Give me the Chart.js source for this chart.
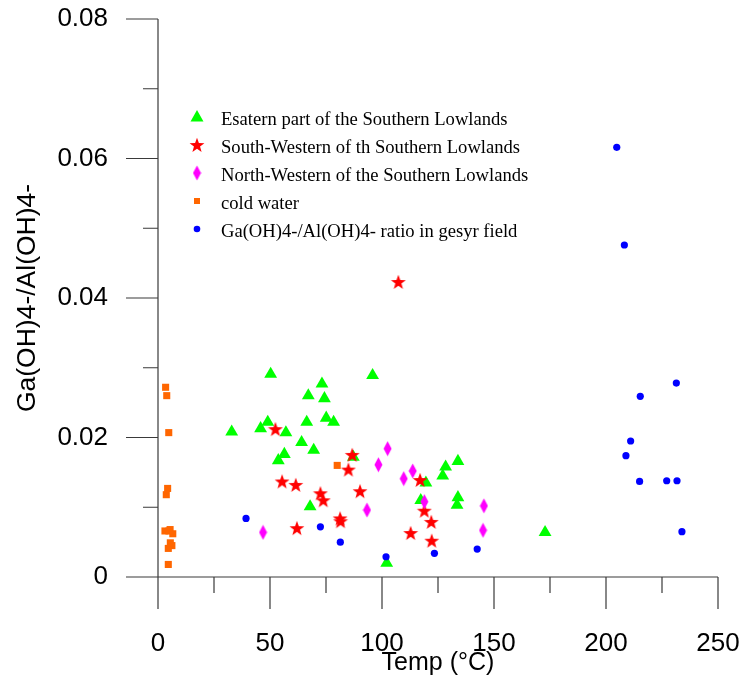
<!DOCTYPE html>
<html><head><meta charset="utf-8">
<script src="https://cdn.jsdelivr.net/npm/chart.js@4"></script>
<style>html,body{margin:0;padding:0;background:#fff}#wrap{width:744px;height:678px;position:relative}</style>
</head><body><div id="wrap"><canvas id="c" width="744" height="678"></canvas></div>
<script>
// ---- data ----
const seriesNames = [
  'Esatern part of the Southern Lowlands',
  'South-Western of th Southern Lowlands',
  'North-Western of the Southern Lowlands',
  'cold water',
  'Ga(OH)4-/Al(OH)4- ratio in gesyr field'
];
const eastTemp = [50.3,73.2,67.1,74.3,66.4,75.1,78.4,32.9,49.0,45.8,57.1,64.1,69.5,56.4,53.7,67.9,95.8,87.2,133.9,128.4,127.1,119.6,117.3,133.9,133.5,172.8,102.1];
const eastRatio = [0.0291,0.0277,0.0260,0.0256,0.0222,0.0228,0.0222,0.0208,0.0222,0.0213,0.0207,0.0193,0.0182,0.0176,0.0167,0.0101,0.0289,0.0172,0.0166,0.0158,0.0145,0.0135,0.0110,0.0114,0.0103,0.0064,0.0020];
const swTemp = [52.4,55.4,61.5,62.0,72.5,73.8,81.3,81.5,85.0,86.7,90.2,107.3,112.8,117.0,118.9,122.0,122.2];
const swRatio = [0.0212,0.0137,0.0132,0.0070,0.0120,0.0110,0.0084,0.0080,0.0154,0.0175,0.0123,0.0423,0.0063,0.0139,0.0095,0.0079,0.0052];
const nwTemp = [102.5,98.4,113.7,109.7,118.9,93.3,145.5,145.1,46.9];
const nwRatio = [0.0184,0.0161,0.0152,0.0141,0.0108,0.0096,0.0102,0.0067,0.0064];
const coldTemp = [3.4,3.9,4.8,4.3,3.7,3.1,5.4,6.6,6.2,4.6,4.6,4.9,5.5,80.0];
const coldRatio = [0.0272,0.0260,0.0207,0.0127,0.0118,0.0066,0.0068,0.0062,0.0045,0.0041,0.0018,0.0066,0.0049,0.0160];
const geyserTemp = [39.3,72.5,81.4,101.8,123.4,142.5,204.8,208.2,231.4,215.3,211.0,208.9,215.0,227.1,231.7,233.9];
const geyserRatio = [0.0084,0.0072,0.0050,0.0029,0.0034,0.0040,0.0616,0.0476,0.0278,0.0259,0.0195,0.0174,0.0137,0.0138,0.0138,0.0065];
const xTickLabels = ['0','50','100','150','200','250'];
const yTickLabels = ['0','0.02','0.04','0.06','0.08'];

// ---- marker images ----
function makeStar(color){
  const c=document.createElement('canvas'); c.width=16; c.height=16;
  const g=c.getContext('2d'); g.fillStyle=color; g.beginPath();
  for(let i=0;i<10;i++){
    const r = i%2===0 ? 7.8 : 3.2;
    const a = -Math.PI/2 + i*Math.PI/5;
    const px = 8 + r*Math.cos(a), py = 8.6 + r*Math.sin(a);
    i===0 ? g.moveTo(px,py) : g.lineTo(px,py);
  }
  g.closePath(); g.fill(); return c;
}
function makeDiamond(color){
  const c=document.createElement('canvas'); c.width=9; c.height=16;
  const g=c.getContext('2d'); g.fillStyle=color; g.beginPath();
  g.moveTo(4.5,0.5); g.lineTo(8.5,8); g.lineTo(4.5,15.5); g.lineTo(0.5,8); g.closePath(); g.fill(); return c;
}
const starImg = makeStar('#ff0000');
const diamondImg = makeDiamond('#ff00ff');

function pts(xs, ys){ return xs.map((x,i)=>({x:x, y:ys[i]})); }

const FONT = "'Liberation Sans', Arial, sans-serif";

function noPad(s){ s.paddingLeft=0; s.paddingRight=0; s.paddingTop=0; s.paddingBottom=0; }

// axis lines + major/minor ticks drawn from the chart's own scales
const axisPlugin = {
  id:'axesTicks',
  beforeDatasetsDraw(chart){
    const ctx=chart.ctx, xs=chart.scales.x, ys=chart.scales.y;
    const x0 = xs.getPixelForValue(0), y0 = ys.getPixelForValue(0);
    ctx.save(); ctx.strokeStyle='#3a3a3a'; ctx.lineWidth=1.2;
    ctx.beginPath();
    ctx.moveTo(x0, ys.getPixelForValue(0.08)); ctx.lineTo(x0, y0);
    ctx.moveTo(x0-32, y0); ctx.lineTo(xs.getPixelForValue(250), y0);
    for(let v=0; v<=0.0801; v+=0.01){
      const p = ys.getPixelForValue(v);
      const major = Math.round(v*100)%2===0;
      ctx.moveTo(x0 - (major?32:15), p); ctx.lineTo(x0, p);
    }
    for(let v=0; v<=250; v+=25){
      const p = xs.getPixelForValue(v);
      const major = v%50===0;
      ctx.moveTo(p, y0); ctx.lineTo(p, y0 + (major?32:16));
    }
    ctx.stroke(); ctx.restore();
  }
};

// legend inside the plot
const legendPlugin = {
  id:'innerLegend',
  afterDraw(chart){
    const ctx=chart.ctx; const mx=197, tx=221;
    const rows=[117,145,173,201,229];
    ctx.save();
    ctx.fillStyle='#00ff00'; ctx.beginPath();
    ctx.moveTo(mx, rows[0]-7); ctx.lineTo(mx+6.5, rows[0]+4.5); ctx.lineTo(mx-6.5, rows[0]+4.5); ctx.closePath(); ctx.fill();
    ctx.drawImage(starImg, mx-8, rows[1]-8);
    ctx.drawImage(diamondImg, mx-4.5, rows[2]-8);
    ctx.fillStyle='#ff6600'; ctx.fillRect(mx-3, rows[3]-3, 6, 6);
    ctx.fillStyle='#0000ff'; ctx.beginPath(); ctx.arc(mx, rows[4], 3.3, 0, Math.PI*2); ctx.fill();
    ctx.fillStyle='#000'; ctx.font="18.6px 'Liberation Serif', 'Times New Roman', serif";
    ctx.textBaseline='alphabetic'; ctx.textAlign='left';
    seriesNames.forEach((n,i)=>ctx.fillText(n, tx, rows[i]+7.5));
    ctx.restore();
  }
};

new Chart(document.getElementById('c'), {
  type:'scatter',
  data:{ datasets:[
    {label:seriesNames[0], data:pts(eastTemp,eastRatio), pointStyle:'triangle', pointRadius:7.4, backgroundColor:'#00ff00', borderColor:'#00ff00', borderWidth:0, order:5},
    {label:seriesNames[1], data:pts(swTemp,swRatio), pointStyle:starImg, pointRadius:8, backgroundColor:'#ff0000', borderColor:'#ff0000', order:4},
    {label:seriesNames[2], data:pts(nwTemp,nwRatio), pointStyle:diamondImg, pointRadius:8, backgroundColor:'#ff00ff', borderColor:'#ff00ff', order:3},
    {label:seriesNames[3], data:pts(coldTemp,coldRatio), pointStyle:'rect', pointRadius:5, backgroundColor:'#ff6600', borderColor:'#ff6600', borderWidth:0, order:2},
    {label:seriesNames[4], data:pts(geyserTemp,geyserRatio), pointStyle:'circle', pointRadius:3.6, backgroundColor:'#0000ff', borderColor:'#0000ff', borderWidth:0, order:1}
  ]},
  options:{
    responsive:false, animation:false, events:[], devicePixelRatio:1,
    layout:{padding:{top:19,right:26,left:0,bottom:0}},
    plugins:{legend:{display:false}, tooltip:{enabled:false}},
    scales:{
      x:{ type:'linear', min:0, max:250,
        afterFit(s){ s.height = 101; noPad(s); },
        grid:{display:false, drawTicks:false}, border:{display:false},
        ticks:{ stepSize:50, autoSkip:false, maxRotation:0, padding:51, color:'#000',
          font:{family:FONT, size:26}, callback:(v,i)=>xTickLabels[i] },
        title:{display:true, text:'Temp (°C)', color:'#000', font:{family:FONT, size:25}, padding:{top:0,bottom:0}}
      },
      y:{ type:'linear', min:0, max:0.08,
        afterFit(s){ s.width = 158; noPad(s); },
        grid:{display:false, drawTicks:false}, border:{display:false},
        ticks:{ stepSize:0.02, autoSkip:false, padding:50, color:'#000',
          font:{family:FONT, size:26}, callback:(v,i)=>yTickLabels[i] },
        title:{display:true, text:'Ga(OH)4-/Al(OH)4-', color:'#000', font:{family:FONT, size:26.5}, padding:{top:12,bottom:0}}
      }
    }
  },
  plugins:[axisPlugin, legendPlugin]
});
</script></body></html>
